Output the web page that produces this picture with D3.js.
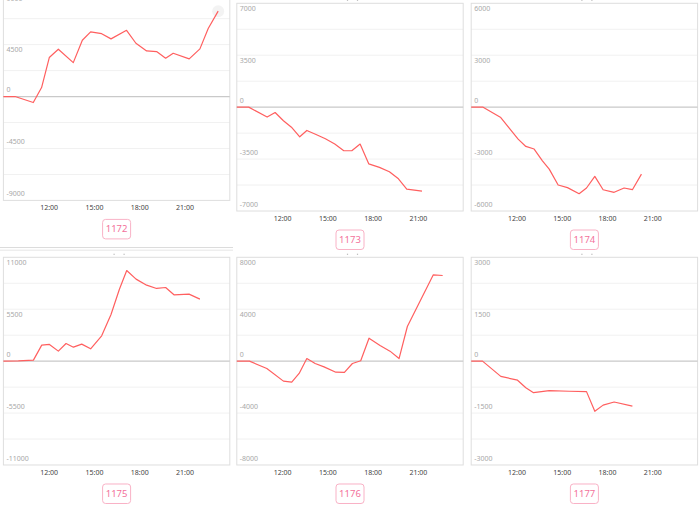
<!DOCTYPE html>
<html>
<head>
<meta charset="utf-8">
<script src="https://cdn.jsdelivr.net/npm/d3@7/dist/d3.min.js"></script>
<style>
  html, body { margin: 0; padding: 0; background: #fff; }
  svg { display: block; }
  text { font-family: "Noto Sans", "Open Sans", sans-serif; }
</style>
</head>
<body>
<svg id="chart" width="700" height="507"></svg>
<script>
// ---------------- data ----------------
const categories = ["1172", "1173", "1174", "1175", "1176", "1177"];
const yMaxes = [9000, 7000, 6000, 11000, 8000, 3000];
const xTickHours = [12, 15, 18, 21];
const xTickLabels = ["12:00", "15:00", "18:00", "21:00"];

const hours1172 = [9.0, 9.77, 10.98, 11.53, 12.04, 12.64, 13.63, 14.23, 14.78, 15.51, 16.13, 17.16, 17.78, 18.49, 19.15, 19.75, 20.25, 21.31, 22.02, 22.57, 23.23];
const values1172 = [0, 0, -520, 780, 3380, 4100, 2940, 4880, 5600, 5450, 5000, 5740, 4620, 3950, 3900, 3320, 3750, 3260, 4130, 5900, 7400];

const hours1173 = [9.0, 9.79, 11.01, 11.54, 12.09, 12.62, 13.17, 13.64, 14.25, 14.87, 15.49, 16.09, 16.62, 17.17, 17.74, 18.45, 19.11, 19.71, 20.26, 21.27];
const values1173 = [0, 0, -670, -360, -920, -1350, -2000, -1570, -1840, -2130, -2490, -2940, -2940, -2490, -3820, -4060, -4350, -4830, -5520, -5660];

const hours1174 = [9.0, 9.79, 10.96, 11.52, 12.11, 12.62, 13.17, 13.72, 14.17, 14.76, 15.38, 16.15, 16.64, 17.19, 17.74, 18.47, 19.13, 19.68, 20.28];
const values1174 = [0, 0, -600, -1210, -1850, -2270, -2420, -3100, -3580, -4500, -4650, -5000, -4670, -4000, -4770, -4920, -4670, -4770, -3870];

const hours1175 = [9.0, 9.99, 10.99, 11.54, 12.05, 12.64, 13.15, 13.64, 14.19, 14.78, 15.51, 16.13, 16.68, 17.17, 17.79, 18.49, 19.15, 19.75, 20.30, 21.30, 22.02];
const values1175 = [0, 35, 110, 1700, 1770, 1060, 1870, 1480, 1800, 1310, 2680, 4940, 7590, 9600, 8690, 8050, 7700, 7800, 7030, 7100, 6570];

const hours1176 = [9.0, 9.84, 10.99, 12.09, 12.64, 13.13, 13.64, 14.19, 14.78, 15.56, 16.13, 16.66, 17.21, 17.76, 18.49, 19.15, 19.75, 20.30, 22.02, 22.64];
const values1176 = [0, 0, -570, -1540, -1620, -950, 200, -180, -440, -850, -870, -180, 30, 1770, 1210, 770, 200, 2670, 6650, 6600];

const hours1177 = [9.0, 9.75, 10.96, 12.07, 12.62, 13.13, 14.17, 15.49, 16.64, 17.19, 17.74, 18.47, 19.68];
const values1177 = [0, 0, -440, -550, -770, -910, -850, -870, -880, -1450, -1270, -1180, -1300];

const seriesHours = [hours1172, hours1173, hours1174, hours1175, hours1176, hours1177];
const seriesValues = [values1172, values1173, values1174, values1175, values1176, values1177];

// ---------------- layout ----------------
const svg = d3.select("#chart");
svg.append("rect").attr("width", 700).attr("height", 507).attr("fill", "#fff");

const colX = [3.4, 236.8, 471.2];
const rowY = [3.3, 257.3];
const pw = 226.4, ph = 207.7;

// separator under the first panel in the left column
svg.append("line").attr("x1", 0).attr("x2", 233).attr("y1", 247.5).attr("y2", 247.5)
  .attr("stroke", "#dcdcdc").attr("stroke-width", 1);
svg.append("line").attr("x1", 0).attr("x2", 233).attr("y1", 250.2).attr("y2", 250.2)
  .attr("stroke", "#e6e6e6").attr("stroke-width", 1);

categories.forEach((cat, i) => {
  const col = i % 3, row = Math.floor(i / 3);
  const x0 = colX[col];
  const y0 = rowY[row] + (i === 0 ? -10.6 : 0);
  const g = svg.append("g").attr("transform", `translate(${x0},${y0})`);
  const yMax = yMaxes[i];

  const x = d3.scaleLinear().domain([9, 24]).range([0, pw]);
  const y = d3.scaleLinear().domain([-yMax, yMax]).range([ph, 0]);

  // little marks above the panel
  [-2.5, 7.5].forEach(dx => {
    g.append("rect").attr("x", pw / 2 + dx - 0.6).attr("y", -3.6)
      .attr("width", 1.2).attr("height", 1.2).attr("fill", "#bbb");
  });

  // grid lines
  const gridVals = d3.range(-4, 5).map(k => k * yMax / 4);
  g.selectAll(".grid").data(gridVals.filter(v => v !== 0 && Math.abs(v) !== yMax)).enter()
    .append("line")
    .attr("x1", 0).attr("x2", pw)
    .attr("y1", d => y(d)).attr("y2", d => y(d))
    .attr("stroke", "#f1f1f1").attr("stroke-width", 1);

  // frame
  g.append("rect").attr("x", 0).attr("y", 0).attr("width", pw).attr("height", ph)
    .attr("fill", "none").attr("stroke", "#dedede").attr("stroke-width", 1);

  // zero line
  g.append("line").attr("x1", 0).attr("x2", pw).attr("y1", y(0)).attr("y2", y(0))
    .attr("stroke", "#c9c9c9").attr("stroke-width", 1.3);

  // y labels
  const labelVals = [yMax, yMax / 2, 0, -yMax / 2, -yMax];
  g.selectAll(".ylab").data(labelVals).enter().append("text")
    .attr("x", 3)
    .attr("y", d => y(d) + (d > 0 ? 6 : -6))
    .attr("dominant-baseline", "middle")
    .attr("font-size", 7)
    .attr("fill", "#a8a8a8")
    .text(d => String(d));

  // x axis labels
  const xAxis = d3.axisBottom(x).tickValues(xTickHours)
    .tickFormat((d, j) => xTickLabels[j]).tickSize(0).tickPadding(0);
  const ax = g.append("g").attr("transform", `translate(0,${ph})`).call(xAxis);
  ax.select(".domain").remove();
  ax.selectAll("text")
    .attr("y", 8).attr("dy", null)
    .attr("dominant-baseline", "middle")
    .attr("font-size", 7)
    .attr("fill", "#444")
    .style("font-family", "'Noto Sans', sans-serif");

  // series line
  const pts = seriesHours[i].map((h, j) => [h, seriesValues[i][j]]);
  if (i === 0) {
    const last = pts[pts.length - 1];
    g.append("circle").attr("cx", x(last[0])).attr("cy", y(last[1])).attr("r", 6)
      .attr("fill", "#f3f3f3");
  }
  g.append("path").datum(pts)
    .attr("d", d3.line().x(d => x(d[0])).y(d => y(d[1])))
    .attr("fill", "none").attr("stroke", "#ff5f5f").attr("stroke-width", 1.2)
    .attr("stroke-linejoin", "round");

  // category box
  const bw = 28, bh = 19.5;
  g.append("rect").attr("x", pw / 2 - bw / 2).attr("y", ph + 19).attr("width", bw).attr("height", bh)
    .attr("rx", 3).attr("fill", "#fff").attr("stroke", "#f9b2c6").attr("stroke-width", 1);
  g.append("text").attr("x", pw / 2).attr("y", ph + 19 + bh / 2 + 0.5)
    .attr("text-anchor", "middle").attr("dominant-baseline", "middle")
    .attr("font-size", 9.5).attr("fill", "#f3719b")
    .text(cat);
});
</script>
</body>
</html>
